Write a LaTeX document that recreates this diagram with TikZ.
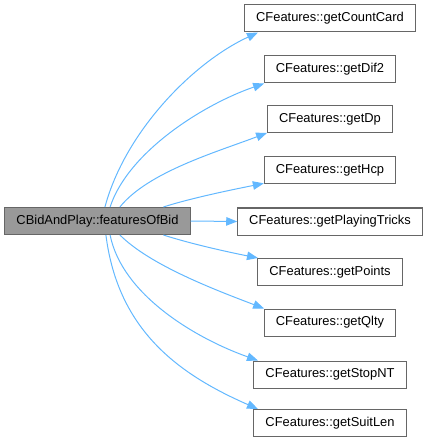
\documentclass[tikz,border=0pt]{standalone}
\usepackage{fontspec}
\setmainfont{Liberation Sans}
\usepackage{tikz}
\usetikzlibrary{arrows.meta}
\definecolor{edgeblue}{HTML}{63B8FF}
\definecolor{boxline}{HTML}{666666}
\definecolor{boxgray}{HTML}{999999}

\begin{document}
\begin{tikzpicture}[x=1pt, y=-1pt,
  fn/.style={draw=boxline, line width=1pt, fill=white, minimum height=27pt,
    inner xsep=11.5pt, inner ysep=0pt, font=\fontsize{12.9}{15}\selectfont},
  caller/.style={fn, fill=boxgray},
  call/.style={edgeblue, line width=1pt, -{Triangle[length=11pt, width=8.5pt]}}]
  \useasboundingbox (0,0) rectangle (428,443);
  % caller
  \node[caller] (fob) at (97.5,221) {CBidAndPlay::featuresOfBid};
  % callees
  \node[fn] (cc) at (330,18.5) {CFeatures::getCountCard};
  \node[fn] (d2) at (330,69.5) {CFeatures::getDif2};
  \node[fn] (dp) at (330,119.5) {CFeatures::getDp};
  \node[fn] (hc) at (330,170.5) {CFeatures::getHcp};
  \node[fn] (pt) at (330,221.5) {CFeatures::getPlayingTricks};
  \node[fn] (po) at (330,272) {CFeatures::getPoints};
  \node[fn] (ql) at (330,322.5) {CFeatures::getQlty};
  \node[fn] (sn) at (330,374.5) {CFeatures::getStopNT};
  \node[fn] (sl) at (330,423) {CFeatures::getSuitLen};
  % calls
  \draw[call] (fob.62) .. controls +(20,-75) and +(-65,30) .. (cc.191);
  \draw[call] (fob.48) .. controls +(18,-55) and +(-61,21) .. (d2.192);
  \draw[call] (fob.32) .. controls +(28,-35) and +(-50,19) .. (dp.192);
  \draw[call] (fob.12) .. controls +(28,-9) and +(-30,6) .. (hc.191);
  \draw[call] (fob.east) -- (pt.west);
  \draw[call] (fob.-12) .. controls +(28,9) and +(-30,-6) .. (po.169);
  \draw[call] (fob.-32) .. controls +(30,30) and +(-50,-19) .. (ql.168);
  \draw[call] (fob.-48) .. controls +(12,60) and +(-62,-22) .. (sn.169);
  \draw[call] (fob.-59) .. controls +(12,95) and +(-80,-35) .. (sl.169);
\end{tikzpicture}
\end{document}
